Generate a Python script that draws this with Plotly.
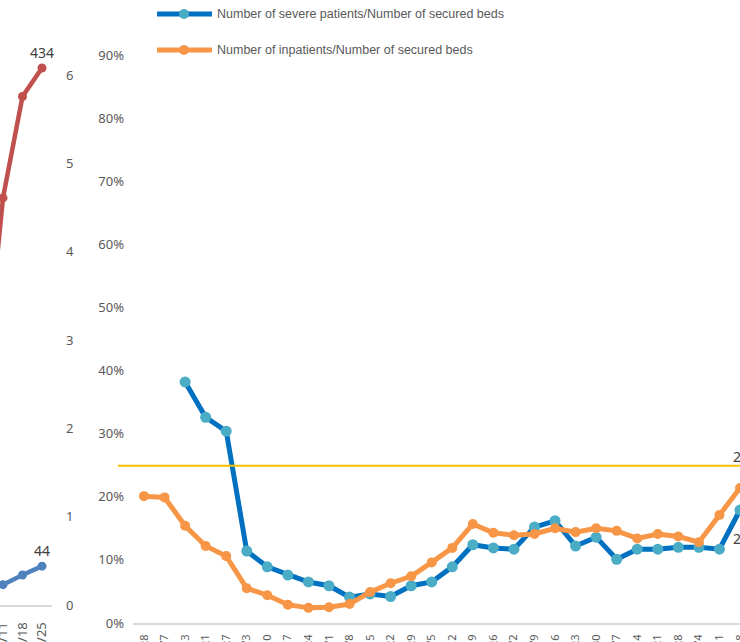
import plotly.graph_objects as go

W, H = 740, 642

# ---------------- data ----------------
dates = ["4/28", "5/7", "5/13", "5/21", "5/27", "6/3", "6/10", "6/17", "6/24", "7/1",
         "7/8", "7/15", "7/22", "7/29", "8/5", "8/12", "8/19", "8/26", "9/2", "9/9",
         "9/16", "9/23", "9/30", "10/7", "10/14", "10/21", "10/28", "11/4", "11/11", "11/18"]
severe_ratio = [None, None, 0.382, 0.326, 0.304, 0.114, 0.089, 0.076, 0.065, 0.059,
                0.041, 0.046, 0.042, 0.059, 0.065, 0.089, 0.124, 0.119, 0.117, 0.152,
                0.162, 0.122, 0.136, 0.101, 0.117, 0.117, 0.120, 0.120, 0.117, 0.179]
inpatient_ratio = [0.201, 0.199, 0.154, 0.122, 0.106, 0.055, 0.044, 0.029, 0.024, 0.025,
                   0.030, 0.049, 0.063, 0.074, 0.096, 0.119, 0.157, 0.143, 0.139, 0.141,
                   0.150, 0.144, 0.150, 0.146, 0.134, 0.141, 0.137, 0.128, 0.171, 0.214]
threshold = 0.249

left_dates = ["1/4", "1/11", "1/18", "1/25"]
left_red = [170, 329, 411, 434]
left_blue = [17, 23, 34, 44]
left_tick_vals = [0, 100, 200, 300, 400, 500, 600]
left_tick_text = ["0", "1", "2", "3", "4", "5", "6"]

# ---------------- helpers ----------------
def px_x(p):
    return p / W

def px_y(p):
    return (H - p) / H

GRAY = "#595959"
TICKFONT = dict(family="Noto Sans, Open Sans, sans-serif", size=13, color=GRAY)

fig = go.Figure()

# main chart traces
fig.add_trace(go.Scatter(
    x=dates, y=severe_ratio, mode="lines+markers",
    line=dict(color="#0070C0", width=5),
    marker=dict(color="#4BACC6", size=11),
    connectgaps=False, showlegend=False, xaxis="x", yaxis="y"))
fig.add_trace(go.Scatter(
    x=dates, y=inpatient_ratio, mode="lines+markers",
    line=dict(color="#F79646", width=5),
    marker=dict(color="#F79646", size=10),
    showlegend=False, xaxis="x", yaxis="y"))

# left (cropped) chart traces
fig.add_trace(go.Scatter(
    x=left_dates, y=left_blue, mode="lines+markers+text",
    line=dict(color="#4F81BD", width=4.5),
    marker=dict(color="#4F81BD", size=9),
    text=[""] * (len(left_blue) - 1) + [str(left_blue[-1])],
    textposition="top center",
    textfont=dict(family="Noto Sans, sans-serif", size=14, color="#404040"),
    cliponaxis=False,
    showlegend=False, xaxis="x2", yaxis="y2"))
fig.add_trace(go.Scatter(
    x=left_dates, y=left_red, mode="lines+markers+text",
    line=dict(color="#C0504D", width=4.5),
    marker=dict(color="#C0504D", size=9),
    text=[""] * (len(left_red) - 1) + [str(left_red[-1])],
    textposition="top center",
    textfont=dict(family="Noto Sans, sans-serif", size=14, color="#404040"),
    cliponaxis=False,
    showlegend=False, xaxis="x2", yaxis="y3"))

# main axis geometry: index 0 at px 144, index 29 at px 740
step = (740 - 144) / 29.0
x0_idx = -(144 - 133) / step

left_step = 19.5
left_origin = 3 - left_step  # px of index 0
lx0 = (0 - left_origin) / left_step
lx1 = (52 - left_origin) / left_step

left_top_px = 30
left_unit = (605 - 75) / 600.0
blue_max = (605 - left_top_px) / left_unit
red_scale = (605 - 68) / 434.0
red_max = (605 - left_top_px) / red_scale
left_domain = [px_y(605), px_y(left_top_px)]

fig.update_layout(
    width=W, height=H,
    margin=dict(l=0, r=0, t=0, b=0),
    paper_bgcolor="white", plot_bgcolor="rgba(0,0,0,0)",
    font=dict(family="Noto Sans, sans-serif", color=GRAY),
    xaxis=dict(
        domain=[px_x(133), 1.0], type="category",
        range=[x0_idx, 29.0], showgrid=False, zeroline=False,
        showline=True, linecolor="#D9D9D9", linewidth=2,
        ticks="", tickangle=-90, ticklabelstandoff=5,
        tickfont=dict(family="Noto Sans, sans-serif", size=11, color=GRAY),
        automargin=False, anchor="y", fixedrange=True),
    yaxis=dict(
        domain=[px_y(623), px_y(55)], range=[0, 0.9],
        tickvals=[i / 10 for i in range(10)],
        ticktext=[f"{i * 10}%" for i in range(10)],
        showgrid=False, zeroline=False, showline=False,
        ticks="", ticklabelstandoff=8,
        tickfont=TICKFONT, automargin=False, anchor="x"),
    xaxis2=dict(
        domain=[0, px_x(52)], type="category",
        range=[lx0, lx1], showgrid=False, zeroline=False,
        showline=True, linecolor="#D9D9D9", linewidth=2,
        ticks="", tickangle=-90, ticklabelstandoff=10,
        tickfont=dict(family="Noto Sans, sans-serif", size=13, color=GRAY),
        automargin=False, anchor="y2"),
    yaxis2=dict(
        domain=left_domain, range=[0, blue_max],
        tickvals=left_tick_vals, ticktext=left_tick_text,
        side="right", anchor="x2",
        showgrid=False, zeroline=False, showline=False,
        ticks="", ticklabelstandoff=13,
        tickfont=TICKFONT, automargin=False),
    yaxis3=dict(overlaying="y2", domain=left_domain, range=[0, red_max],
                visible=False, anchor="x2"),
)

# threshold line (spans from left of plot area to right edge)
fig.add_shape(type="line", xref="paper", yref="y",
              x0=px_x(118), x1=1.0, y0=threshold, y1=threshold,
              line=dict(color="#FFC000", width=2))

# partially visible data labels at the right edge
fig.add_annotation(xref="paper", yref="paper", x=px_x(731), y=px_y(456),
                   xanchor="left", yanchor="middle", showarrow=False,
                   text="25%", font=dict(family="Noto Sans, sans-serif", size=14, color="#404040"))
fig.add_annotation(xref="paper", yref="paper", x=px_x(731), y=px_y(538),
                   xanchor="left", yanchor="middle", showarrow=False,
                   text="21%", font=dict(family="Noto Sans, sans-serif", size=14, color="#404040"))

# manual legend
legend_items = [
    ("Number of severe patients/Number of secured beds", "#0070C0", "#4BACC6", 14),
    ("Number of inpatients/Number of secured beds", "#F79646", "#F79646", 50),
]
for label, lcol, mcol, ypx in legend_items:
    fig.add_shape(type="line", xref="paper", yref="paper",
                  x0=px_x(157), x1=px_x(212), y0=px_y(ypx), y1=px_y(ypx),
                  line=dict(color=lcol, width=5))
    fig.add_shape(type="circle", xref="paper", yref="paper",
                  x0=px_x(179), x1=px_x(189), y0=px_y(ypx + 5), y1=px_y(ypx - 5),
                  fillcolor=mcol, line=dict(width=0))
    fig.add_annotation(xref="paper", yref="paper", x=px_x(215), y=px_y(ypx),
                       xanchor="left", yanchor="middle", showarrow=False,
                       text=label,
                       font=dict(family="Liberation Sans, Arial, sans-serif", size=12.5, color=GRAY))

fig.write_html("out.html", config={"displayModeBar": False},
               post_script="document.body.style.margin='0px';")
